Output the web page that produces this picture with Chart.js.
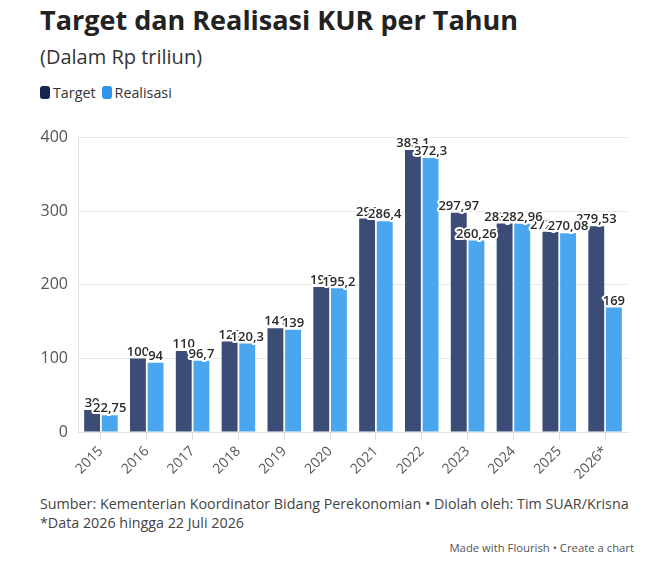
<!DOCTYPE html>
<html>
<head>
    <title>Target dan Realisasi KUR per Tahun</title>
    <script src="https://cdn.jsdelivr.net/npm/chart.js"></script>
    <style>
        body {
            margin: 0;
            padding: 0;
            background: #ffffff;
            font-family: "Open Sans", "Noto Sans", sans-serif;
            width: 661px;
            height: 571px;
            position: relative;
            overflow: hidden;
        }
        h1 {
            position: absolute;
            left: 40px;
            top: 1px;
            margin: 0;
            font-size: 27px;
            font-weight: 700;
            color: #222;
        }
        .subtitle {
            position: absolute;
            left: 40px;
            top: 43px;
            font-size: 20px;
            color: #333;
        }
        .legend {
            position: absolute;
            left: 40px;
            top: 83px;
            font-size: 14.3px;
            color: #333;
            display: flex;
            align-items: center;
        }
        .swatch {
            display: inline-block;
            width: 10px;
            height: 13px;
            border-radius: 3px;
            margin-right: 3px;
        }
        .item {
            display: flex;
            align-items: center;
            margin-right: 6px;
        }
        .chart-box {
            position: absolute;
            left: 30px;
            top: 118px;
            width: 615px;
            height: 370px;
        }
        .source {
            position: absolute;
            left: 40px;
            top: 494px;
            font-size: 14.3px;
            line-height: 19px;
            color: #444;
        }
        .credit {
            position: absolute;
            right: 27px;
            top: 540px;
            font-size: 11.3px;
            color: #555;
        }
    </style>
</head>
<body>
    <h1>Target dan Realisasi KUR per Tahun</h1>
    <div class="subtitle">(Dalam Rp triliun)</div>
    <div class="legend">
        <span class="item"><span class="swatch" style="background:#16264f"></span>Target</span>
        <span class="item"><span class="swatch" style="background:#2e94e8"></span>Realisasi</span>
    </div>
    <div class="chart-box"><canvas id="kurChart"></canvas></div>
    <div class="source">Sumber: Kementerian Koordinator Bidang Perekonomian • Diolah oleh: Tim SUAR/Krisna<br>*Data 2026 hingga 22 Juli 2026</div>
    <div class="credit">Made with Flourish • Create a chart</div>

    <script>
        // data (Rp triliun)
        const years = ["2015", "2016", "2017", "2018", "2019", "2020", "2021", "2022", "2023", "2024", "2025", "2026*"];
        const target = [30, 100, 110, 123, 141, 197, 290, 383.1, 297.97, 283.33, 272.15, 279.53];
        const realisasi = [22.75, 94, 96.7, 120.3, 139, 195.2, 286.4, 372.3, 260.26, 282.96, 270.08, 169];
        const yTicks = [0, 100, 200, 300, 400];

        function fmt(v) {
            return String(v).replace(".", ",");
        }

        // labels above bars with a white halo, like the original
        const valueLabels = {
            id: "valueLabels",
            afterDatasetsDraw(chart) {
                const ctx = chart.ctx;
                ctx.save();
                ctx.font = "600 13px 'Open Sans'";
                ctx.textAlign = "center";
                ctx.textBaseline = "bottom";
                ctx.lineJoin = "round";
                ctx.lineWidth = 4;
                ctx.strokeStyle = "#fff";
                ctx.fillStyle = "#2a2a2a";
                chart.data.datasets.forEach((ds, i) => {
                    chart.getDatasetMeta(i).data.forEach((bar, j) => {
                        const t = fmt(ds.data[j]);
                        ctx.strokeText(t, bar.x, bar.y);
                        ctx.fillText(t, bar.x, bar.y);
                    });
                });
                ctx.restore();
            }
        };

        new Chart(document.getElementById("kurChart"), {
            type: "bar",
            data: {
                labels: years,
                datasets: [
                    { label: "Target", data: target, backgroundColor: "#3b4d76" },
                    { label: "Realisasi", data: realisasi, backgroundColor: "#4aa6ee" }
                ]
            },
            options: {
                responsive: true,
                maintainAspectRatio: false,
                animation: false,
                categoryPercentage: 0.77,
                barPercentage: 0.9,
                layout: { padding: { top: 17, right: 17 } },
                plugins: {
                    legend: { display: false },
                    tooltip: { enabled: false }
                },
                scales: {
                    x: {
                        grid: { offset: false, drawOnChartArea: false, tickLength: 8, color: "#dddddd" },
                        border: { color: "#e3e3e3" },
                        ticks: {
                            minRotation: 45,
                            maxRotation: 45,
                            color: "#555",
                            font: { family: "Open Sans", size: 14 }
                        },
                        afterFit(s) { s.height = 56; }
                    },
                    y: {
                        min: 0,
                        max: 400,
                        afterBuildTicks(s) { s.ticks = yTicks.map(v => ({ value: v })); },
                        grid: { color: "#e9e9e9", drawTicks: false },
                        border: { color: "#e3e3e3" },
                        ticks: {
                            color: "#555",
                            padding: 10,
                            font: { family: "Open Sans", size: 16 }
                        },
                        afterFit(s) { s.width = 48; }
                    }
                }
            },
            plugins: [valueLabels]
        });
    </script>
</body>
</html>
